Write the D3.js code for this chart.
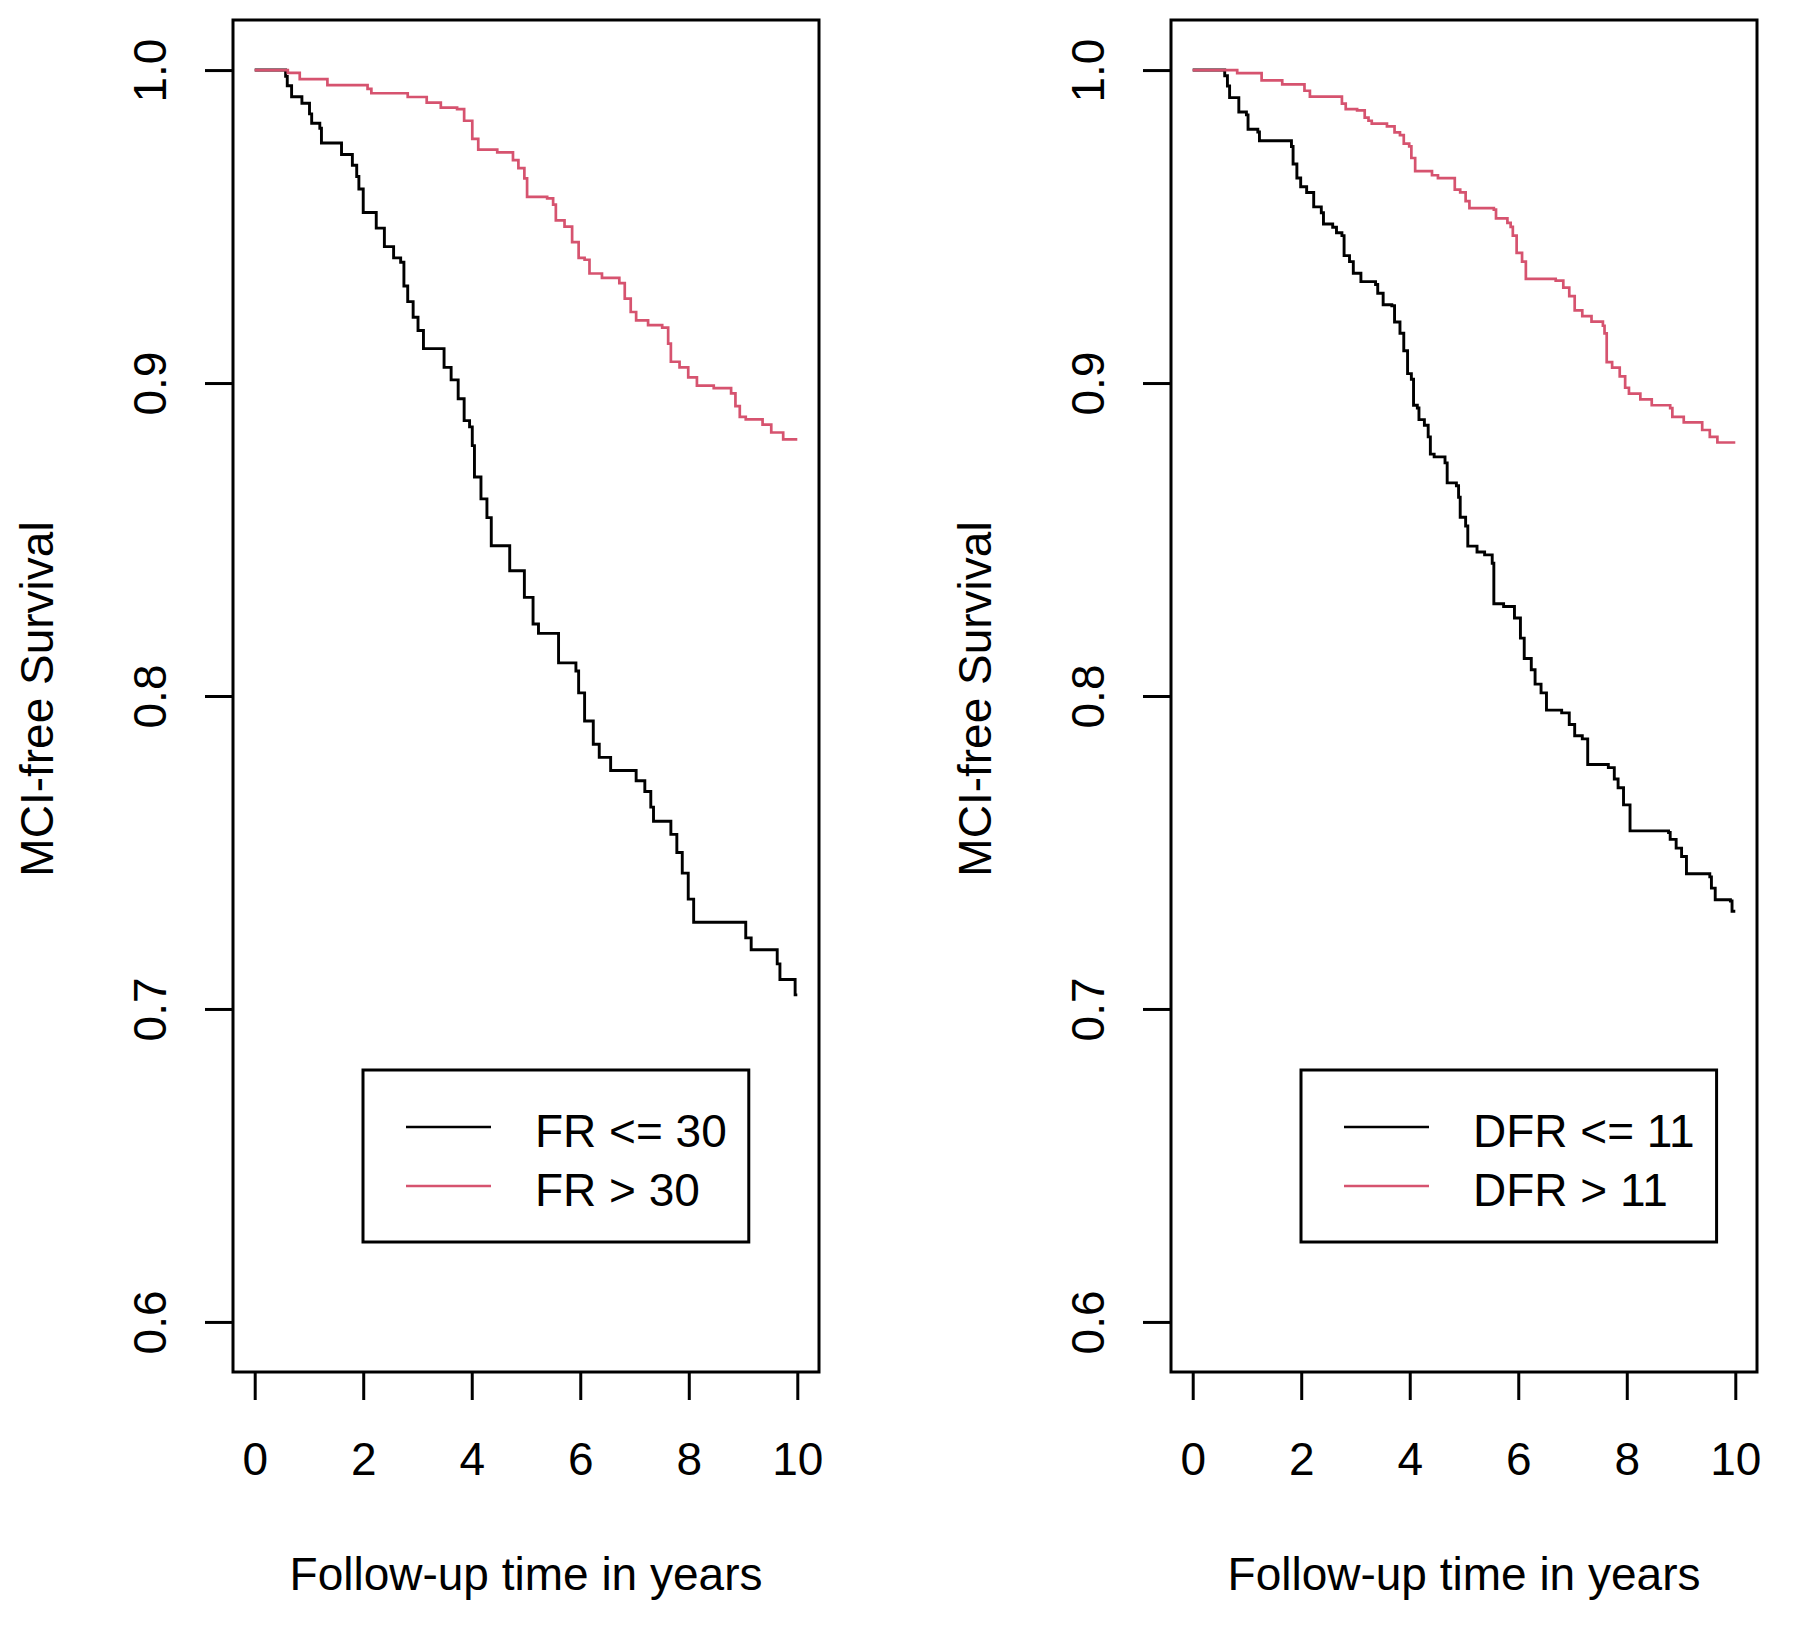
<!DOCTYPE html>
<html>
<head>
<meta charset="utf-8">
<script src="https://cdn.jsdelivr.net/npm/d3@7"></script>
<style>
  html, body { margin: 0; padding: 0; background: #ffffff; }
  svg { display: block; }
  text { font-family: "Liberation Sans", Arial, Helvetica, sans-serif; fill: #000; }
</style>
</head>
<body>
<svg id="chart" width="1800" height="1635"></svg>
<script>
// ---------------- DATA ----------------
const xTicks = [0, 2, 4, 6, 8, 10];
const yTicks = [0.6, 0.7, 0.8, 0.9, 1.0];
const xTitle = "Follow-up time in years";
const yTitle = "MCI-free Survival";

// Panel 1: FR groups (event times and survival after each step)
const frLowTime = [0, 0.57, 0.60, 0.68, 0.87, 1.01, 1.05, 1.20, 1.23, 1.60, 1.80, 1.88, 1.92, 2.00, 2.24, 2.39, 2.56, 2.69, 2.75, 2.82, 2.92, 3.01, 3.11, 3.49, 3.62, 3.75, 3.86, 3.96, 4.01, 4.05, 4.17, 4.28, 4.36, 4.70, 4.97, 5.13, 5.23, 5.60, 5.92, 5.97, 6.08, 6.24, 6.35, 6.56, 7.03, 7.19, 7.30, 7.35, 7.67, 7.78, 7.88, 7.99, 8.09, 9.05, 9.15, 9.63, 9.68, 9.96, 10.0];
const frLowSurv = [1.0, 0.998, 0.995, 0.9915, 0.9894, 0.986, 0.983, 0.9814, 0.9767, 0.973, 0.9696, 0.966, 0.962, 0.9545, 0.9495, 0.9436, 0.940, 0.9386, 0.931, 0.926, 0.921, 0.9168, 0.911, 0.905, 0.901, 0.895, 0.888, 0.886, 0.880, 0.870, 0.863, 0.857, 0.848, 0.840, 0.8315, 0.823, 0.820, 0.8106, 0.808, 0.801, 0.792, 0.7846, 0.7804, 0.7762, 0.7729, 0.7695, 0.7645, 0.760, 0.7558, 0.750, 0.7434, 0.7351, 0.7277, 0.7227, 0.7189, 0.7144, 0.7094, 0.7045, 0.7045];

const frHighTime = [0, 0.61, 0.83, 1.34, 2.08, 2.15, 2.82, 3.17, 3.43, 3.73, 3.86, 4.01, 4.12, 4.47, 4.76, 4.86, 4.97, 5.02, 5.39, 5.50, 5.55, 5.71, 5.85, 5.97, 6.08, 6.17, 6.40, 6.72, 6.82, 6.93, 7.03, 7.25, 7.51, 7.62, 7.67, 7.83, 7.99, 8.15, 8.46, 8.78, 8.86, 8.94, 9.05, 9.36, 9.52, 9.74, 10.0];
const frHighSurv = [1.0, 0.9991, 0.9971, 0.9952, 0.994, 0.9926, 0.9914, 0.9896, 0.988, 0.9875, 0.9838, 0.978, 0.9746, 0.9737, 0.9712, 0.9687, 0.9654, 0.9595, 0.959, 0.957, 0.952, 0.950, 0.945, 0.940, 0.9394, 0.935, 0.9336, 0.9319, 0.927, 0.9227, 0.920, 0.9185, 0.9177, 0.9126, 0.9068, 0.905, 0.9018, 0.8992, 0.8984, 0.8967, 0.8926, 0.8892, 0.8884, 0.8867, 0.8842, 0.882, 0.882];

// Panel 2: DFR groups
const dfrLowTime = [0, 0.59, 0.64, 0.68, 0.85, 0.99, 1.02, 1.20, 1.23, 1.82, 1.85, 1.92, 1.99, 2.10, 2.23, 2.37, 2.41, 2.58, 2.65, 2.75, 2.79, 2.89, 2.96, 3.10, 3.37, 3.41, 3.51, 3.67, 3.72, 3.82, 3.89, 3.96, 4.03, 4.07, 4.14, 4.17, 4.27, 4.34, 4.38, 4.45, 4.65, 4.69, 4.86, 4.90, 4.93, 5.03, 5.07, 5.24, 5.38, 5.52, 5.55, 5.73, 5.93, 6.04, 6.11, 6.24, 6.31, 6.42, 6.52, 6.80, 6.94, 7.04, 7.18, 7.28, 7.66, 7.77, 7.84, 7.94, 8.06, 8.77, 8.80, 8.91, 9.01, 9.10, 9.53, 9.56, 9.63, 9.91, 9.94, 10.0];
const dfrLowSurv = [1.0, 0.9982, 0.9949, 0.9912, 0.9866, 0.9857, 0.9811, 0.9802, 0.9774, 0.9756, 0.970, 0.9655, 0.9627, 0.9609, 0.9563, 0.9544, 0.9508, 0.9498, 0.948, 0.9471, 0.9407, 0.9388, 0.9351, 0.9324, 0.9315, 0.9287, 0.925, 0.9247, 0.9195, 0.9159, 0.9103, 0.903, 0.9012, 0.8929, 0.892, 0.8883, 0.8865, 0.8828, 0.8773, 0.8764, 0.8745, 0.8681, 0.8672, 0.8635, 0.8571, 0.8543, 0.8479, 0.846, 0.8451, 0.8424, 0.8295, 0.8286, 0.8249, 0.8185, 0.812, 0.8084, 0.8038, 0.801, 0.7955, 0.7946, 0.7909, 0.7873, 0.7863, 0.7781, 0.7771, 0.7735, 0.7707, 0.7652, 0.7569, 0.7564, 0.7542, 0.7514, 0.7487, 0.7432, 0.7422, 0.7386, 0.7349, 0.7345, 0.7312, 0.7312];

const dfrHighTime = [0, 0.82, 1.27, 1.65, 2.06, 2.16, 2.75, 2.82, 3.03, 3.17, 3.24, 3.30, 3.58, 3.72, 3.82, 3.89, 3.99, 4.03, 4.10, 4.41, 4.52, 4.83, 4.93, 5.03, 5.10, 5.55, 5.59, 5.80, 5.86, 5.90, 5.97, 6.07, 6.14, 6.69, 6.83, 6.94, 7.04, 7.18, 7.35, 7.56, 7.59, 7.63, 7.73, 7.87, 7.97, 8.04, 8.25, 8.46, 8.80, 8.84, 9.05, 9.39, 9.53, 9.67, 10.0];
const dfrHighSurv = [1.0, 0.999, 0.9967, 0.9954, 0.9934, 0.9915, 0.9893, 0.9875, 0.9871, 0.9848, 0.9838, 0.9829, 0.982, 0.9801, 0.9792, 0.9765, 0.9756, 0.9719, 0.9677, 0.9664, 0.9655, 0.9618, 0.9609, 0.9581, 0.9559, 0.9554, 0.9526, 0.9512, 0.9499, 0.9471, 0.9416, 0.9388, 0.9333, 0.9327, 0.9305, 0.9278, 0.9232, 0.9214, 0.9196, 0.9183, 0.9159, 0.9067, 0.9049, 0.9021, 0.8985, 0.8966, 0.8948, 0.8929, 0.892, 0.8892, 0.8874, 0.885, 0.8828, 0.881, 0.881];

const panel1Labels = ["FR <= 30", "FR > 30"];
const panel2Labels = ["DFR <= 11", "DFR > 11"];
const seriesColors = ["#000000", "#D6536F"];

// ---------------- LAYOUT ----------------
const svg = d3.select("#chart");
const boxTop = 20, boxBottom = 1372, boxWidth = 586;
const panels = [
  { left: 233, labels: panel1Labels,
    series: [[frLowTime, frLowSurv], [frHighTime, frHighSurv]] },
  { left: 1171, labels: panel2Labels,
    series: [[dfrLowTime, dfrLowSurv], [dfrHighTime, dfrHighSurv]] }
];
const FS = 46;

panels.forEach(p => {
  const x = d3.scaleLinear().domain([-0.4, 10.4]).range([p.left, p.left + boxWidth]);
  const y = d3.scaleLinear().domain([0.584, 1.016]).range([boxBottom, boxTop]);
  const g = svg.append("g");

  // Curves
  const line = d3.line().x(d => x(d[0])).y(d => y(d[1])).curve(d3.curveStepAfter);
  p.series.forEach((s, i) => {
    const pts = s[0].map((t, k) => [t, s[1][k]]);
    g.append("path").datum(pts)
      .attr("d", line)
      .attr("fill", "none")
      .attr("stroke", seriesColors[i])
      .attr("stroke-width", i === 0 ? 2.9 : 2.7)
      .attr("stroke-linejoin", "miter");
  });

  // Box
  g.append("rect")
    .attr("x", p.left).attr("y", boxTop)
    .attr("width", boxWidth).attr("height", boxBottom - boxTop)
    .attr("fill", "none").attr("stroke", "#000").attr("stroke-width", 3);

  // Y axis
  const yAxis = g.append("g")
    .attr("transform", `translate(${p.left},0)`)
    .call(d3.axisLeft(y).tickValues(yTicks).tickSize(28).tickSizeOuter(0)
      .tickFormat(d3.format(".1f")));
  yAxis.select(".domain").remove();
  yAxis.selectAll(".tick line").attr("stroke", "#000").attr("stroke-width", 3);
  yAxis.selectAll(".tick text")
    .attr("x", null).attr("dy", null)
    .attr("transform", "translate(-67,0) rotate(-90)")
    .attr("text-anchor", "middle")
    .attr("font-size", FS)
    .attr("fill", "#000");

  // X axis
  const xAxis = g.append("g")
    .attr("transform", `translate(0,${boxBottom})`)
    .call(d3.axisBottom(x).tickValues(xTicks).tickSize(28).tickSizeOuter(0));
  xAxis.select(".domain").remove();
  xAxis.selectAll(".tick line").attr("stroke", "#000").attr("stroke-width", 3);
  xAxis.selectAll(".tick text")
    .attr("y", 103).attr("dy", null)
    .attr("font-size", FS)
    .attr("fill", "#000");
  svg.selectAll(".tick text").style("font-family", "'Liberation Sans', Arial, sans-serif");

  // Axis titles
  g.append("text")
    .attr("x", p.left + boxWidth / 2).attr("y", 1590)
    .attr("text-anchor", "middle").attr("font-size", FS)
    .text(xTitle);
  g.append("text")
    .attr("transform", `translate(${p.left - 180},${(boxTop + boxBottom) / 2 + 3}) rotate(-90)`)
    .attr("text-anchor", "middle").attr("font-size", FS)
    .text(yTitle);

  // Legend
  const lgLeft = p.left + 130, lgTop = 1070, lgBottom = 1242;
  const lg = g.append("g");
  const rowY = [1127, 1186];
  const texts = p.labels.map((lab, i) => lg.append("text")
    .attr("x", lgLeft + 172).attr("y", rowY[i] + 20)
    .attr("font-size", 46)
    .text(lab));
  const maxW = d3.max(texts, t => t.node().getComputedTextLength());
  lg.insert("rect", ":first-child")
    .attr("x", lgLeft).attr("y", lgTop)
    .attr("width", 172 + maxW + 22).attr("height", lgBottom - lgTop)
    .attr("fill", "#fff").attr("stroke", "#000").attr("stroke-width", 3);
  p.labels.forEach((lab, i) => {
    lg.append("line")
      .attr("x1", lgLeft + 43).attr("x2", lgLeft + 128)
      .attr("y1", rowY[i]).attr("y2", rowY[i])
      .attr("stroke", seriesColors[i]).attr("stroke-width", 2.6);
  });
});
</script>
</body>
</html>
